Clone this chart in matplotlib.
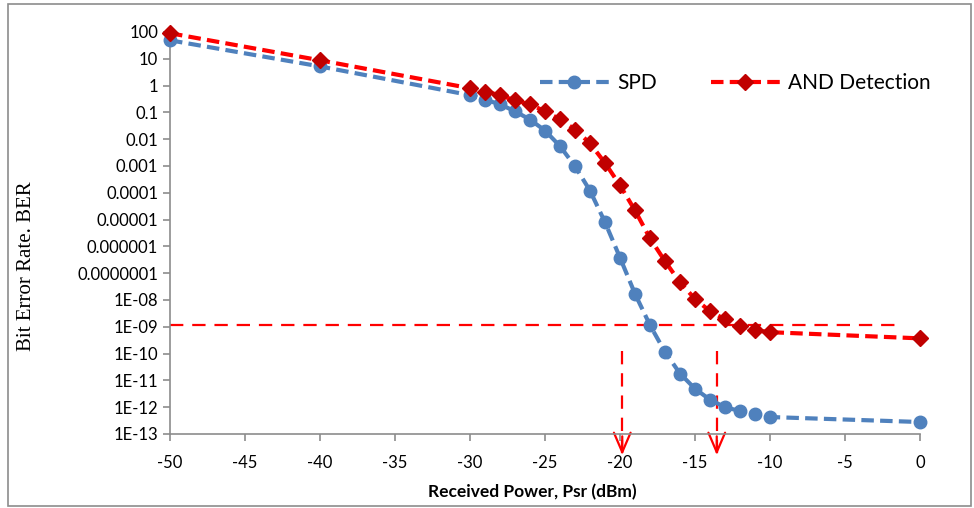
import matplotlib
matplotlib.use("Agg")
import matplotlib.pyplot as plt
from matplotlib.patches import Rectangle, FancyArrowPatch
import numpy as np

power = [-50, -40, -30, -29, -28, -27, -26, -25, -24, -23, -22, -21, -20, -19, -18,
         -17, -16, -15, -14, -13, -12, -11, -10, 0]
ber_spd = [49, 5.2, 0.44, 0.30, 0.20, 0.11, 0.054, 0.021, 0.0055, 0.00098, 1.2e-4, 8e-6,
           3.8e-7, 1.7e-8, 1.15e-9, 1.15e-10, 1.8e-11, 4.9e-12, 1.9e-12, 1.0e-12, 7.2e-13,
           5.4e-13, 4.3e-13, 2.8e-13]
ber_and = [90, 8.8, 0.8, 0.6, 0.44, 0.28, 0.2, 0.11, 0.055, 0.023, 0.007, 0.0013,
           0.00019, 2.2e-5, 2e-6, 2.8e-7, 4.5e-8, 1.1e-8, 3.8e-9, 1.9e-9, 1.1e-9,
           7.5e-10, 6.3e-10, 3.7e-10]

ytick_vals = [1e2, 1e1, 1, 1e-1, 1e-2, 1e-3, 1e-4, 1e-5, 1e-6, 1e-7, 1e-8, 1e-9,
              1e-10, 1e-11, 1e-12, 1e-13]
ytick_labels = ["100", "10", "1", "0.1", "0.01", "0.001", "0.0001", "0.00001",
                "0.000001", "0.0000001", "1E-08", "1E-09", "1E-10", "1E-11", "1E-12", "1E-13"]
xticks = [-50, -45, -40, -35, -30, -25, -20, -15, -10, -5, 0]

ref_ber = 1.2e-9
ref_x_end = -1.4
arrow_x = [-19.85, -13.55]
arrow_top = 1.3e-10
arrow_tip = 1.3e-14

W, H = 974, 508
fig = plt.figure(figsize=(W / 100, H / 100), dpi=100)
ax = fig.add_axes([170 / W, 1 - 434 / H, 750 / W, 402 / H])

# outer border
fig.patches.append(Rectangle((8 / W, 2 / H), 963 / W, 502 / H, transform=fig.transFigure,
                             fill=False, edgecolor="#8c8c8c", linewidth=1.2))

blue = "#4F81BD"
ax.plot(power, ber_spd, linestyle=(0, (3, 1.5)), color=blue, linewidth=3,
        marker="o", markersize=9, markerfacecolor=blue, markeredgecolor=blue,
        label="SPD", clip_on=False, zorder=3)
ax.plot(power, ber_and, linestyle=(0, (3, 1.5)), color="#FF0000", linewidth=3,
        marker="D", markersize=8, markerfacecolor="#C00000", markeredgecolor="#C00000",
        label="AND Detection", clip_on=False, zorder=4)

# reference lines
ax.plot([-50, ref_x_end], [ref_ber, ref_ber], color="#FF0000", linewidth=1.6,
        linestyle=(0, (6, 4)), zorder=2)
for xa in arrow_x:
    ax.plot([xa, xa], [arrow_top, arrow_tip], color="#FF0000", linewidth=1.6,
            linestyle=(0, (6, 4)), clip_on=False, zorder=2)
    arr = FancyArrowPatch((xa, arrow_tip * 8), (xa, arrow_tip),
                          arrowstyle="->,head_length=14,head_width=6",
                          color="#FF0000", linewidth=1.6, clip_on=False, mutation_scale=1)
    ax.add_patch(arr)

ax.set_yscale("log")
ax.set_ylim(1e-13, 100)
ax.set_xlim(-50, 0)
ax.set_yticks(ytick_vals)
ax.set_yticklabels(ytick_labels)
ax.yaxis.set_minor_locator(matplotlib.ticker.NullLocator())
ax.set_xticks(xticks)
ax.set_xticklabels([str(v) for v in xticks])

for s in ["top", "right"]:
    ax.spines[s].set_visible(False)
for s in ["left", "bottom"]:
    ax.spines[s].set_color("#8c8c8c")
    ax.spines[s].set_linewidth(1.2)
ax.tick_params(axis="both", colors="#8c8c8c", labelcolor="black", length=5, width=1.2,
               labelsize=12)
ax.tick_params(axis="x", pad=10)
for lbl in ax.get_xticklabels() + ax.get_yticklabels():
    lbl.set_family("Lato")

ax.set_xlabel("Received Power, Psr (dBm)", family="Lato", fontweight="bold", fontsize=12.5)
ax.xaxis.set_label_coords(532 / W, 1 - 492 / H, transform=fig.transFigure)
ax.xaxis.label.set_va("center")
ax.set_ylabel("Bit Error Rate. BER", family="Liberation Serif", fontsize=15)
ax.yaxis.set_label_coords(27 / W, 1 - 266 / H, transform=fig.transFigure)
ax.yaxis.label.set_va("center")

leg = ax.legend(loc="center left", bbox_to_anchor=(540 / W, 1 - 83 / H), bbox_transform=fig.transFigure,
                ncol=2, frameon=False, handlelength=3.3, columnspacing=2.6, handletextpad=0.4,
                prop={"family": "Lato", "size": 15}, borderaxespad=0, borderpad=0)

fig.savefig("out.png", dpi=100)
